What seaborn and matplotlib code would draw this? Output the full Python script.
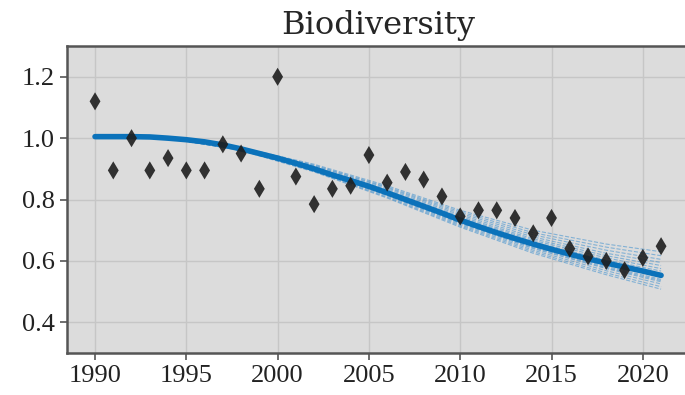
import matplotlib
matplotlib.use('Agg')
import matplotlib.pyplot as plt
import seaborn as sns
import pandas as pd

# observed index values, one per year
years = list(range(1990, 2022))
observed = [1.12, 0.895, 1.00, 0.895, 0.935, 0.895, 0.895, 0.98, 0.95, 0.835,
            1.20, 0.875, 0.785, 0.835, 0.845, 0.945, 0.855, 0.89, 0.865, 0.81,
            0.745, 0.765, 0.765, 0.74, 0.69, 0.74, 0.64, 0.615, 0.60, 0.57,
            0.61, 0.648]

# fitted curve
fit = [1.005, 1.005, 1.005, 1.004, 1.000, 0.995, 0.988, 0.978, 0.965, 0.950,
       0.935, 0.918, 0.900, 0.880, 0.862, 0.843, 0.822, 0.800, 0.778, 0.756,
       0.733, 0.712, 0.692, 0.673, 0.655, 0.638, 0.622, 0.607, 0.593, 0.580,
       0.567, 0.553]

# ensemble of fits (sampled every few years)
ens_years = [1990, 1994, 1998, 2002, 2006, 2010, 2014, 2018, 2021]
ens_1 = [1.005, 1.000, 0.970, 0.915, 0.845, 0.765, 0.700, 0.655, 0.630]
ens_2 = [1.005, 1.000, 0.968, 0.910, 0.838, 0.755, 0.685, 0.635, 0.605]
ens_3 = [1.005, 1.000, 0.967, 0.905, 0.830, 0.745, 0.672, 0.617, 0.585]
ens_4 = [1.005, 1.000, 0.966, 0.902, 0.826, 0.738, 0.662, 0.603, 0.567]
ens_5 = [1.005, 1.000, 0.964, 0.898, 0.818, 0.727, 0.646, 0.582, 0.540]
ens_6 = [1.005, 0.999, 0.962, 0.894, 0.812, 0.718, 0.635, 0.568, 0.525]
ens_7 = [1.005, 0.999, 0.960, 0.890, 0.805, 0.710, 0.625, 0.555, 0.508]
ens_8 = [1.005, 1.000, 0.963, 0.896, 0.815, 0.722, 0.640, 0.575, 0.532]
ens_9 = [1.005, 1.000, 0.966, 0.903, 0.828, 0.741, 0.667, 0.610, 0.575]
ens_10 = [1.005, 1.000, 0.969, 0.912, 0.841, 0.760, 0.692, 0.645, 0.617]
ens_11 = [1.005, 1.000, 0.965, 0.900, 0.822, 0.733, 0.654, 0.592, 0.553]
ens_12 = [1.005, 0.999, 0.961, 0.892, 0.808, 0.714, 0.630, 0.561, 0.516]
ens_13 = [1.005, 1.000, 0.965, 0.899, 0.820, 0.730, 0.650, 0.588, 0.548]
ens_14 = [1.005, 1.000, 0.967, 0.907, 0.834, 0.750, 0.678, 0.625, 0.595]
ens_15 = [1.005, 1.000, 0.963, 0.897, 0.816, 0.724, 0.643, 0.578, 0.536]
ensemble = [ens_1, ens_2, ens_3, ens_4, ens_5, ens_6, ens_7, ens_8, ens_9,
            ens_10, ens_11, ens_12, ens_13, ens_14, ens_15]

sns.set_style('darkgrid', {'axes.facecolor': '#dcdcdc', 'grid.color': '#c6c6c6',
                           'axes.edgecolor': '#555555', 'xtick.bottom': True,
                           'ytick.left': True})
plt.rcParams['font.family'] = ['DejaVu Serif']

blue = '#0b72ba'

ens_df = pd.DataFrame([(i, y, v) for i, member in enumerate(ensemble)
                       for y, v in zip(ens_years, member)],
                      columns=['member', 'year', 'value'])
fit_df = pd.DataFrame({'year': years, 'value': fit})
obs_df = pd.DataFrame({'year': years, 'value': observed})

fig = plt.figure(figsize=(6.85, 3.95), dpi=100)
ax = fig.add_axes([0.0974, 0.1063, 0.909, 0.777])

sns.lineplot(data=ens_df, x='year', y='value', units='member', estimator=None,
             color='#2a86cc', lw=0.8, ls='--', alpha=0.5, ax=ax)
sns.lineplot(data=fit_df, x='year', y='value', color=blue, lw=4, ax=ax)
sns.scatterplot(data=obs_df, x='year', y='value', marker='d', color='#1e1e1e',
                s=85, alpha=0.9, edgecolor='none', ax=ax, zorder=3)

ax.set_ylim(0.3, 1.3)
ax.set_xlim(1988.45, 2022.55)
ax.set_yticks([0.4, 0.6, 0.8, 1.0, 1.2])
ax.set_xticks([1990, 1995, 2000, 2005, 2010, 2015, 2020])
ax.set_xlabel('')
ax.set_ylabel('')
ax.set_title('Biodiversity', fontsize=23, pad=9)
ax.tick_params(labelsize=19, length=5, width=1.2, color='#555555', colors='#222222')
for lbl in ax.get_xticklabels() + ax.get_yticklabels():
    lbl.set_family('Liberation Serif')
for sp in ax.spines.values():
    sp.set_linewidth(1.8)
ax.grid(True, lw=1.0)

fig.savefig('out.png', dpi=100)
